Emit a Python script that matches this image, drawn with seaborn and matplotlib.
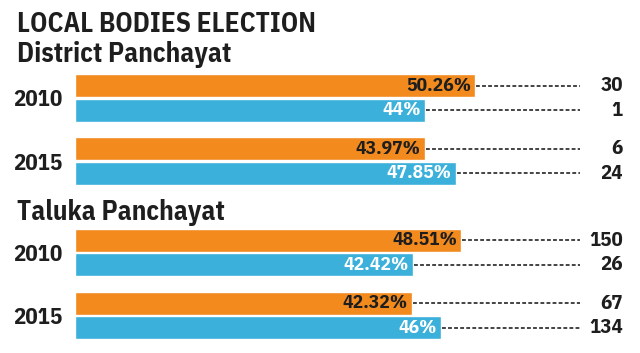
import matplotlib
matplotlib.use("Agg")
import matplotlib.pyplot as plt
import seaborn as sns
import pandas as pd

# ---------------- data ----------------
title = "LOCAL BODIES ELECTION"
sections = ["District Panchayat", "Taluka Panchayat"]
years = ["2010", "2015"]
parties = ["BJP", "Congress"]          # orange, blue

district_pct_bjp = [50.26, 43.97]
district_pct_cong = [44.0, 47.85]
district_lbl_bjp = ["50.26%", "43.97%"]
district_lbl_cong = ["44%", "47.85%"]
district_seats_bjp = [30, 6]
district_seats_cong = [1, 24]

taluka_pct_bjp = [48.51, 42.32]
taluka_pct_cong = [42.42, 46.0]
taluka_lbl_bjp = ["48.51%", "42.32%"]
taluka_lbl_cong = ["42.42%", "46%"]
taluka_seats_bjp = [150, 67]
taluka_seats_cong = [26, 134]

# ---------------- style ----------------
ORANGE = "#F28A1E"
BLUE = "#3AB0DA"
DARK = "#1e1e1e"

sns.set_style("white")
plt.rcParams["font.family"] = ["IBM Plex Sans Condensed", "DejaVu Sans"]
plt.rcParams["font.weight"] = "bold"

W, H = 640, 353
fig = plt.figure(figsize=(W / 100, H / 100), dpi=100)
fig.patch.set_facecolor("white")

XMAX = 71.0          # x-axis range (percent units)
LINE_END = 63.4      # end of dashed leader lines
NUM_X = 68.85        # right edge of seat numbers


def frame(pb, pc, lb, lc, sb, sc):
    return pd.DataFrame({
        "year": years + years,
        "party": [parties[0]] * 2 + [parties[1]] * 2,
        "pct": pb + pc,
        "label": lb + lc,
        "seats": sb + sc,
    })


frames = [
    frame(district_pct_bjp, district_pct_cong, district_lbl_bjp,
          district_lbl_cong, district_seats_bjp, district_seats_cong),
    frame(taluka_pct_bjp, taluka_pct_cong, taluka_lbl_bjp,
          taluka_lbl_cong, taluka_seats_bjp, taluka_seats_cong),
]

# axes rectangles (pixel top, pixel bottom)
rects = [(66.5, 192.5), (221.0, 347.0)]

for df, (top, bot) in zip(frames, rects):
    ax = fig.add_axes([75 / W, 1 - bot / H, (W - 75) / W, (bot - top) / H])
    sns.barplot(data=df, y="year", x="pct", hue="party", order=years,
                hue_order=parties, palette=[ORANGE, BLUE], orient="h",
                width=0.79, gap=0.08, saturation=1, legend=False, ax=ax)
    ax.set_xlim(0, XMAX)
    ax.set_ylim(1.5, -0.5)
    ax.set_xlabel("")
    ax.set_ylabel("")
    ax.set_xticks([])
    sns.despine(ax=ax, left=True, bottom=True)
    ax.tick_params(axis="y", length=0, pad=9, labelsize=16.5)
    for t in ax.get_yticklabels():
        t.set_fontweight("bold")
        t.set_color(DARK)
    ax.patch.set_alpha(0)

    for ci, party in enumerate(parties):
        sub = df[df["party"] == party].set_index("year").loc[years]
        txt_color = DARK if ci == 0 else "white"
        for patch, lbl, seat in zip(ax.containers[ci].patches, sub["label"], sub["seats"]):
            w = patch.get_width()
            yc = patch.get_y() + patch.get_height() / 2
            ax.annotate(lbl, xy=(w, yc), xytext=(-3.0, 0), textcoords="offset points",
                        ha="right", va="center", fontsize=14, fontweight="bold",
                        color=txt_color)
            ax.plot([w + 0.15, LINE_END], [yc, yc], ls=(0, (2.4, 1.4)),
                    color="#1a1a1a", lw=1.15, clip_on=False)
            ax.text(NUM_X, yc, str(seat), ha="right", va="center", fontsize=15,
                    fontweight="bold", color=DARK, clip_on=False)

fig.text(17 / W, 1 - 32 / H, title, ha="left", va="baseline", fontsize=19.5,
         fontweight="bold", color=DARK)
fig.text(17 / W, 1 - 61.5 / H, sections[0], ha="left", va="baseline", fontsize=19.5,
         fontweight="bold", color=DARK)
fig.text(17 / W, 1 - 220 / H, sections[1], ha="left", va="baseline", fontsize=19.5,
         fontweight="bold", color=DARK)

fig.savefig("out.png", dpi=100, facecolor="white")
